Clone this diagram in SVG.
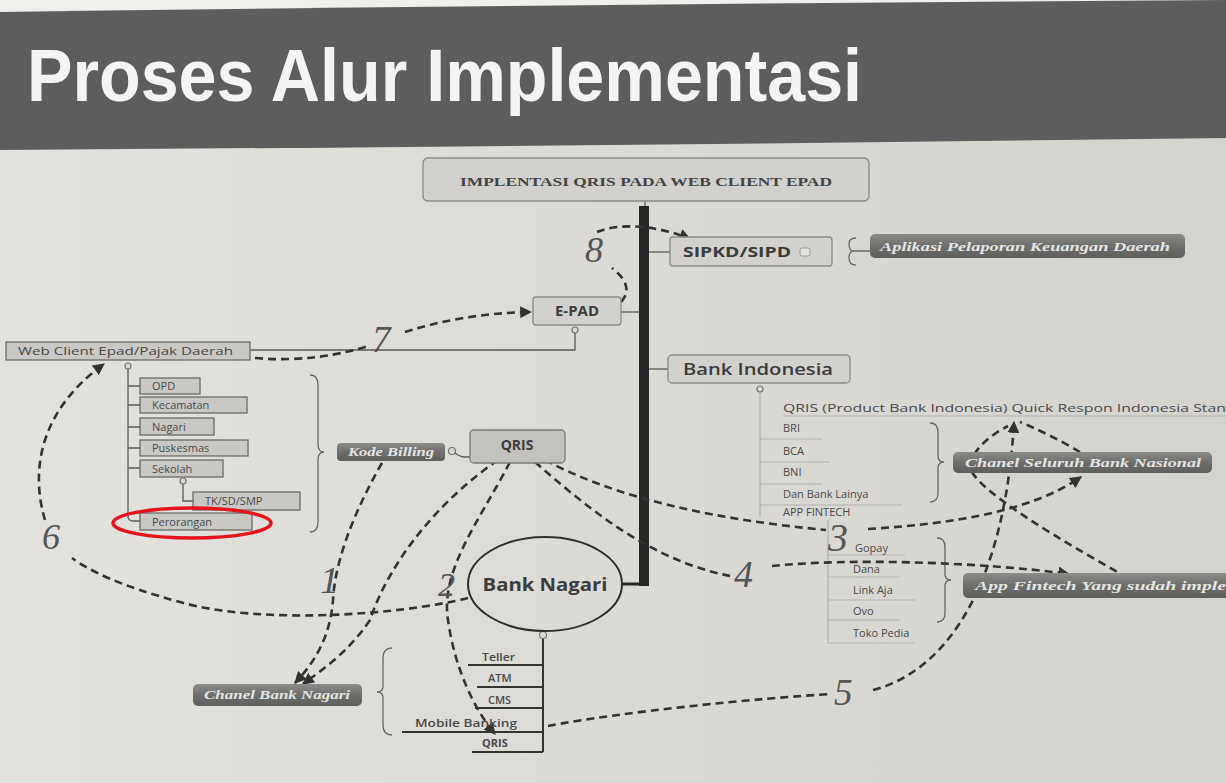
<svg xmlns="http://www.w3.org/2000/svg" width="1226" height="783" viewBox="0 0 1226 783">
<defs>
<linearGradient id="paper" x1="0" y1="0" x2="1" y2="0">
<stop offset="0" stop-color="#e3e2de"/>
<stop offset="0.5" stop-color="#dbdad5"/>
<stop offset="1" stop-color="#d4d3ce"/>
</linearGradient>
<linearGradient id="pill" x1="0" y1="0" x2="0" y2="1">
<stop offset="0" stop-color="#8c8c8a"/>
<stop offset="0.5" stop-color="#6e6e6c"/>
<stop offset="1" stop-color="#5e5e5c"/>
</linearGradient>
<marker id="ah" viewBox="0 0 10 10" refX="9" refY="5" markerWidth="12" markerHeight="12" markerUnits="userSpaceOnUse" orient="auto">
<path d="M0,0 L10,5 L0,10 z" fill="#333"/>
</marker>
<style>
.box{fill:#d2d1cd;stroke:#8a8a86;stroke-width:1.3}
.tbox{fill:#c9c8c4;stroke:#6c6c68;stroke-width:1.3}
.lbl{font-family:"Open Sans","DejaVu Sans",sans-serif;fill:#3c3c3c}
.sm{font-family:"Open Sans","DejaVu Sans",sans-serif;font-size:11px;fill:#4a4a4a}
.pill{fill:url(#pill)}
.ptxt{font-family:"Liberation Serif",serif;font-style:italic;font-weight:bold;font-size:12px;fill:#e4e4e2}
.thin{fill:none;stroke:#5a5a57;stroke-width:1.3}
.faint{fill:none;stroke:#b3b2ad;stroke-width:1.2}
.brace{fill:none;stroke:#666;stroke-width:1.3}
.dash{fill:none;stroke:#333;stroke-width:2.6;stroke-dasharray:8 5}
.num{font-family:"Liberation Serif",serif;font-style:italic;fill:#555}
.knob{fill:#d8d7d2;stroke:#777;stroke-width:1.2}
</style>
</defs>

<rect x="0" y="0" width="1226" height="783" fill="url(#paper)"/>
<rect x="0" y="0" width="1226" height="14" fill="#efefec"/>
<path d="M0 12 Q 600 4 1226 0 V 138 Q 600 146 0 150 Z" fill="#5d5d5d"/>
<text x="27" y="101" font-family="Liberation Sans, Arial, sans-serif" font-weight="bold" font-size="74" fill="#f4f4f4" textLength="835" lengthAdjust="spacingAndGlyphs">Proses Alur Implementasi</text>

<g id="connectors">
<line x1="645" y1="201" x2="645" y2="207" class="thin"/>
<rect x="639" y="206" width="10" height="380" fill="#262626"/>
<line x1="622" y1="584" x2="640" y2="584" stroke="#262626" stroke-width="3"/>
<line x1="649" y1="252" x2="670" y2="252" class="thin"/>
<line x1="621" y1="312" x2="640" y2="312" class="thin"/>
<line x1="649" y1="369" x2="668" y2="369" class="thin"/>
<path d="M250 350 H 575 V 333" class="thin"/>
<circle cx="575" cy="330" r="3" class="knob"/>
<path d="M128 369 V 516 Q 128 521 133 521 H 140 M128 386 H 140 M128 405 H 140 M128 427 H 140 M128 448 H 140 M128 468 H 140" class="thin"/>
<circle cx="128" cy="366" r="3" class="knob"/>
<path d="M183 484 V 501 H 193" class="thin"/>
<circle cx="183" cy="481" r="3" class="knob"/>
<circle cx="452" cy="451" r="3.5" class="knob"/>
<path d="M455 453 Q 460 457 465 457 H 553" class="thin"/>
<path d="M543 638 V 752 M468 665 H 543 M477 687 H 543 M475 708 H 543 M402 732 H 543 M472 752 H 543" fill="none" stroke="#333" stroke-width="2"/>
<circle cx="543" cy="635" r="3.5" class="knob"/>
<path d="M760 392 V 517" class="faint"/>
<path d="M783 416 H 1226 M760 439 H 822 M760 462 H 830 M760 484 H 822 M760 505 H 902" class="faint"/>
<path d="M828 520 V 643 H 915 M828 555 H 905 M828 577 H 900 M828 600 H 915 M828 620 H 900" class="faint"/>
<circle cx="760" cy="389" r="3" class="knob"/>
<path d="M310 375 Q 318 375 318 385 V 444 Q 318 452 324 452 Q 318 452 318 460 V 522 Q 318 532 310 532" class="brace"/>
<path d="M930 423 Q 938 423 938 432 V 456 Q 938 462 944 462 Q 938 462 938 468 V 493 Q 938 502 930 502" class="brace"/>
<path d="M937 538 Q 945 538 945 547 V 574 Q 945 580 951 580 Q 945 580 945 586 V 613 Q 945 622 937 622" class="brace"/>
<path d="M392 648 Q 383 648 383 658 V 686 Q 383 692 377 692 Q 383 692 383 698 V 725 Q 383 735 392 735" class="brace"/>
<path d="M856 238 Q 849 238 849 244 Q 849 249 852 251 Q 849 253 849 258 Q 849 265 856 265 M852 251 H 870" class="brace"/>

<path d="M382 463 C 355 510 335 560 333 600 C 330 640 312 665 295 683" class="dash" marker-end="url(#ah)"/>
<path d="M498 460 C 440 500 390 560 370 620 C 350 650 325 668 303 684" class="dash" marker-end="url(#ah)"/>
<path d="M510 462 C 480 520 440 570 448 620 C 455 670 475 710 495 734" class="dash" marker-end="url(#ah)"/>
<path d="M545 460 C 620 500 720 520 826 530 M868 529 C 950 524 1030 512 1081 477" class="dash" marker-end="url(#ah)"/>
<path d="M535 462 C 590 510 650 560 730 576 M772 566 C 850 558 980 562 1069 574" class="dash" marker-end="url(#ah)"/>
<path d="M548 726 C 620 712 760 698 832 694 M873 690 C 950 670 1005 580 1014 422" class="dash" marker-end="url(#ah)"/>
<path d="M1128 578 C 1060 540 985 495 972 472 C 965 455 990 435 1008 426" class="dash"/>
<path d="M1080 452 C 1060 440 1035 428 1020 422" class="dash"/>
<path d="M468 598 C 400 615 260 625 180 602 C 120 586 88 570 72 558 M45 520 C 30 470 40 410 104 364" class="dash" marker-end="url(#ah)"/>
<path d="M255 358 C 300 362 340 355 368 346 M405 332 C 440 321 480 313 531 312" class="dash" marker-end="url(#ah)"/>
<path d="M621 302 C 632 290 625 278 612 268 M597 232 C 620 222 660 226 690 239" class="dash" marker-end="url(#ah)"/>

<text x="585" y="262" class="num" font-size="36">8</text>
<text x="372" y="352" class="num" font-size="37">7</text>
<text x="42" y="549" class="num" font-size="36">6</text>
<text x="320" y="593" class="num" font-size="38">1</text>
<text x="438" y="596" class="num" font-size="34">2</text>
<text x="828" y="551" class="num" font-size="40">3</text>
<text x="734" y="587" class="num" font-size="38">4</text>
<text x="834" y="705" class="num" font-size="37">5</text>
</g>

<g id="title-box">
<rect x="423" y="158" width="446" height="43" rx="5" class="box"/>
<text x="646" y="186" text-anchor="middle" font-family="Liberation Serif, serif" font-weight="bold" font-size="12" fill="#444" textLength="372" lengthAdjust="spacingAndGlyphs">IMPLENTASI QRIS PADA WEB CLIENT EPAD</text>
</g>

<g id="sipkd">
<rect x="670" y="237" width="162" height="29" rx="3" class="box"/>
<text x="683" y="257" class="lbl" font-size="15" font-weight="bold" textLength="108" lengthAdjust="spacingAndGlyphs">SIPKD/SIPD</text>
<rect x="800" y="248" width="10" height="8" rx="2" fill="#e2e2de" stroke="#999" stroke-width="1"/>
</g>

<g id="aplikasi">
<rect x="870" y="234" width="315" height="24" rx="5" class="pill"/>
<text x="880" y="251" class="ptxt" textLength="290" lengthAdjust="spacingAndGlyphs">Aplikasi Pelaporan Keuangan Daerah</text>
</g>

<g id="epad">
<rect x="533" y="297" width="88" height="28" rx="3" class="box"/>
<text x="577" y="316" text-anchor="middle" class="lbl" font-size="15" font-weight="bold">E-PAD</text>
</g>

<g id="web-client">
<rect x="6" y="342" width="244" height="18" class="tbox" fill="#d0cfcb"/>
<text x="18" y="355" class="sm" font-size="12" textLength="215" lengthAdjust="spacingAndGlyphs">Web Client Epad/Pajak Daerah</text>
</g>

<g id="opd"><rect x="140" y="378" width="60" height="16" class="tbox"/><text x="152" y="390" class="sm">OPD</text></g>
<g id="kecamatan"><rect x="140" y="397" width="107" height="16" class="tbox"/><text x="152" y="409" class="sm">Kecamatan</text></g>
<g id="nagari"><rect x="140" y="418" width="74" height="17" class="tbox"/><text x="152" y="431" class="sm">Nagari</text></g>
<g id="puskesmas"><rect x="140" y="440" width="108" height="16" class="tbox"/><text x="152" y="452" class="sm">Puskesmas</text></g>
<g id="sekolah"><rect x="140" y="460" width="83" height="17" class="tbox"/><text x="152" y="473" class="sm">Sekolah</text></g>
<g id="tksdsmp"><rect x="193" y="492" width="107" height="18" class="tbox"/><text x="205" y="505" class="sm">TK/SD/SMP</text></g>
<g id="perorangan">
<rect x="140" y="513" width="112" height="17" class="tbox"/><text x="152" y="526" class="sm">Perorangan</text>
<ellipse cx="192" cy="523" rx="79" ry="15" fill="none" stroke="#e3141b" stroke-width="3.5"/>
</g>

<g id="kode-billing">
<rect x="337" y="443" width="108" height="18" rx="4" class="pill"/>
<text x="348" y="456" class="ptxt" font-size="11" textLength="86" lengthAdjust="spacingAndGlyphs">Kode Billing</text>
</g>

<g id="qris">
<rect x="470" y="430" width="95" height="33" rx="4" fill="#c3c2be" stroke="#7a7a76" stroke-width="1.3"/>
<text x="517" y="450" text-anchor="middle" class="lbl" font-size="14" font-weight="bold">QRIS</text>
</g>

<g id="bank-indonesia">
<rect x="668" y="355" width="182" height="28" rx="4" class="box"/>
<text x="683" y="375" class="lbl" font-size="16" font-weight="600" textLength="150" lengthAdjust="spacingAndGlyphs">Bank Indonesia</text>
</g>

<g id="bi-list">
<text x="783" y="412" class="sm" textLength="443" lengthAdjust="spacingAndGlyphs">QRIS (Product Bank Indonesia) Quick Respon Indonesia Stan</text>
<text x="783" y="432" class="sm">BRI</text>
<text x="783" y="455" class="sm">BCA</text>
<text x="783" y="476" class="sm">BNI</text>
<text x="783" y="498" class="sm">Dan Bank Lainya</text>
<text x="783" y="516" class="sm" font-size="10.5">APP FINTECH</text>
</g>

<g id="fintech-list">
<text x="855" y="552" class="sm">Gopay</text>
<text x="853" y="573" class="sm">Dana</text>
<text x="853" y="594" class="sm">Link Aja</text>
<text x="853" y="615" class="sm">Ovo</text>
<text x="853" y="637" class="sm">Toko Pedia</text>
</g>

<g id="chanel-seluruh">
<rect x="953" y="452" width="259" height="21" rx="5" class="pill"/>
<text x="965" y="467" class="ptxt" textLength="236" lengthAdjust="spacingAndGlyphs">Chanel Seluruh Bank Nasional</text>
</g>

<g id="app-fintech">
<rect x="963" y="573" width="280" height="25" rx="5" class="pill"/>
<text x="975" y="590" class="ptxt" textLength="251" lengthAdjust="spacingAndGlyphs">App Fintech Yang sudah imple</text>
</g>

<g id="bank-nagari">
<ellipse cx="545" cy="584" rx="77" ry="47" fill="none" stroke="#2e2e2e" stroke-width="2"/>
<text x="545" y="591" text-anchor="middle" class="lbl" font-size="18" font-weight="bold" textLength="125" lengthAdjust="spacingAndGlyphs">Bank Nagari</text>
</g>

<g id="nagari-channels">
<text x="482" y="661" class="sm" font-weight="600" textLength="33" lengthAdjust="spacingAndGlyphs">Teller</text>
<text x="488" y="682" class="sm" font-weight="600">ATM</text>
<text x="488" y="704" class="sm" font-weight="600">CMS</text>
<text x="415" y="727" class="sm" font-weight="600" textLength="102" lengthAdjust="spacingAndGlyphs">Mobile Banking</text>
<text x="482" y="747" class="sm" font-weight="bold">QRIS</text>
</g>

<g id="chanel-bank-nagari">
<rect x="193" y="684" width="169" height="22" rx="5" class="pill"/>
<text x="204" y="699" class="ptxt" textLength="146" lengthAdjust="spacingAndGlyphs">Chanel Bank Nagari</text>
</g>
</svg>
